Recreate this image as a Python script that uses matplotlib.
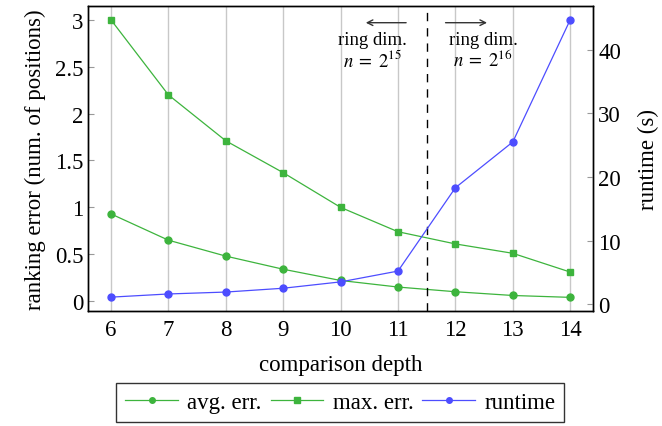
import matplotlib
matplotlib.use("Agg")
import matplotlib.pyplot as plt
from matplotlib.lines import Line2D

plt.rcParams['font.family'] = ['Liberation Serif', 'DejaVu Serif']
plt.rcParams['mathtext.fontset'] = 'stix'

depth = [6, 7, 8, 9, 10, 11, 12, 13, 14]
avg_err = [0.93, 0.65, 0.48, 0.34, 0.22, 0.15, 0.10, 0.06, 0.04]
max_err = [3.00, 2.20, 1.71, 1.37, 1.00, 0.74, 0.61, 0.51, 0.31]
runtime = [1.1, 1.6, 1.9, 2.5, 3.5, 5.2, 18.3, 25.5, 44.7]

green = '#3db43d'
blue = '#4d4dff'
fs = 16.5

fig = plt.figure(figsize=(6.62, 4.27), dpi=100)
ax = fig.add_axes([0.133, 0.269, 0.763, 0.715])
ax2 = ax.twinx()

ax.plot(depth, avg_err, color=green, marker='o', markersize=5, lw=0.9, label='avg. err.')
ax.plot(depth, max_err, color=green, marker='s', markersize=5, lw=0.9, label='max. err.')
ax2.plot(depth, runtime, color=blue, marker='o', markersize=5, lw=0.9, label='runtime')

ax.set_xlim(5.6, 14.4)
ax.set_ylim(-0.107, 3.15)
ax2.set_ylim(-1.1, 46.9)
ax.set_xticks(depth)
ax.set_yticks([0, 0.5, 1, 1.5, 2, 2.5, 3])
ax.set_yticklabels(['0', '0.5', '1', '1.5', '2', '2.5', '3'])
ax2.set_yticks([0, 10, 20, 30, 40])

ax.grid(axis='x', color='#c8c8c8', lw=1)
ax.set_axisbelow(True)
for a in (ax, ax2):
    a.tick_params(direction='in', length=4, color='#999999', labelsize=fs)
    for s in a.spines.values():
        s.set_linewidth(1.0)
ax.tick_params(axis='x', length=0, pad=6)

ax.set_xlabel('comparison depth', fontsize=fs, labelpad=10)
ax.set_ylabel('ranking error (num. of positions)', fontsize=fs, labelpad=6)
ax2.set_ylabel('runtime (s)', fontsize=fs, labelpad=12)

ax.axvline(11.5, color='black', lw=1, ls=(0, (6, 5)))

ax.annotate('', xy=(10.39, 2.97), xytext=(11.19, 2.97),
            arrowprops=dict(arrowstyle='->', color='#333333', lw=1))
ax.annotate('', xy=(12.60, 2.97), xytext=(11.78, 2.97),
            arrowprops=dict(arrowstyle='->', color='#333333', lw=1))
afs = 13.5
ax.text(10.56, 2.79, 'ring dim.', ha='center', va='center', fontsize=afs)
ax.text(10.56, 2.58, r'$n\;=\;2^{15}$', ha='center', va='center', fontsize=afs)
ax.text(12.48, 2.79, 'ring dim.', ha='center', va='center', fontsize=afs)
ax.text(12.48, 2.58, r'$n\;=\;2^{16}$', ha='center', va='center', fontsize=afs)

handles = [Line2D([], [], color=green, marker='o', markersize=4, lw=0.9),
           Line2D([], [], color=green, marker='s', markersize=4, lw=0.9),
           Line2D([], [], color=blue, marker='o', markersize=4, lw=0.9)]
leg = fig.legend(handles, ['avg. err.', 'max. err.', 'runtime'], loc='center',
                 bbox_to_anchor=(0.514, 0.055), ncol=3, fontsize=fs, frameon=True,
                 fancybox=False, edgecolor='black', handlelength=2.3,
                 handletextpad=0.4, columnspacing=0.4, borderpad=0.4)
leg.get_frame().set_linewidth(1.0)

fig.savefig('out.png', dpi=100)
